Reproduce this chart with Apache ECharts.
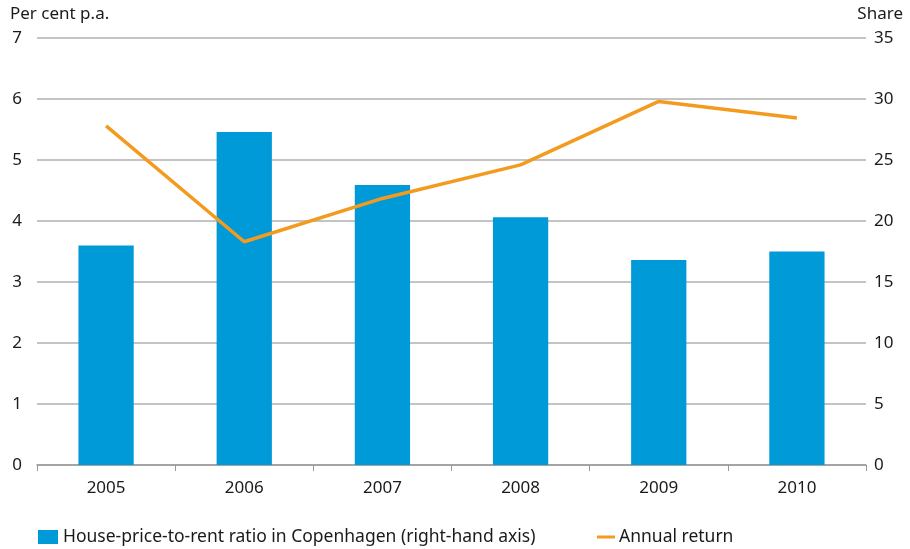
<!DOCTYPE html>
<html><head><meta charset="utf-8">
<script src="https://cdn.jsdelivr.net/npm/echarts@6/dist/echarts.min.js"></script>
<style>html,body{margin:0;padding:0;background:#fff}#c{width:910px;height:549px}</style>
</head><body><div id="c"></div>
<script>
const categories = ['2005','2006','2007','2008','2009','2010'];
const priceToRent = [18.0, 27.3, 22.95, 20.3, 16.8, 17.5];
const annualReturn = [5.56, 3.66, 4.37, 4.92, 5.96, 5.69];
const leftName = 'Per cent p.a.';
const rightName = 'Share';
const barName = 'House-price-to-rent ratio in Copenhagen (right-hand axis)';
const lineName = 'Annual return';

const font = 'Noto Sans';
const txt = '#1a1a1a';
const chart = echarts.init(document.getElementById('c'));
chart.setOption({
  animation: false,
  textStyle: {fontFamily: font, color: txt},
  grid: {left: 37, right: 44, top: 38, bottom: 84},
  legend: [
    {left: 38, top: 528, padding: 0, data: [barName], icon: 'rect', itemWidth: 20, itemHeight: 14, itemGap: 5,
     textStyle: {fontFamily: font, fontSize: 17.5, color: txt, padding: [0,0,0,0]}},
    {left: 597, top: 528, padding: 0, data: [lineName], icon: 'rect', itemWidth: 18, itemHeight: 3,
     textStyle: {fontFamily: font, fontSize: 17.5, color: txt, padding: [0,0,0,-1]}}
  ],
  graphic: [
    {type: 'text', left: 10, top: 6, style: {text: leftName, font: '17px "Noto Sans"', fill: txt}},
    {type: 'text', right: 7, top: 6, style: {text: rightName, font: '17px "Noto Sans"', fill: txt}}
  ],
  xAxis: {
    type: 'category', data: categories,
    axisLine: {lineStyle: {color: '#999', width: 1.5}},
    axisTick: {show: true, length: 6, lineStyle: {color: '#999'}},
    axisLabel: {fontSize: 17, color: txt, margin: 15, fontFamily: font}
  },
  yAxis: [
    {type: 'value', min: 0, max: 7, interval: 1,
     axisLine: {show: false}, axisTick: {show: false},
     axisLabel: {fontSize: 17, color: txt, margin: 15, fontFamily: font},
     splitLine: {lineStyle: {color: '#b0b0b0', width: 1.5}}},
    {type: 'value', min: 0, max: 35, interval: 5, position: 'right',
     axisLine: {show: false}, axisTick: {show: false},
     axisLabel: {fontSize: 17, color: txt, margin: 8, fontFamily: font},
     splitLine: {show: false}}
  ],
  series: [
    {name: barName, type: 'bar', yAxisIndex: 1, data: priceToRent, barWidth: '40%',
     itemStyle: {color: '#009ad8'}},
    {name: lineName, type: 'line', yAxisIndex: 0, data: annualReturn, symbol: 'none',
     lineStyle: {color: '#f39b1f', width: 3.5}, itemStyle: {color: '#f39b1f'}}
  ]
});
</script></body></html>
